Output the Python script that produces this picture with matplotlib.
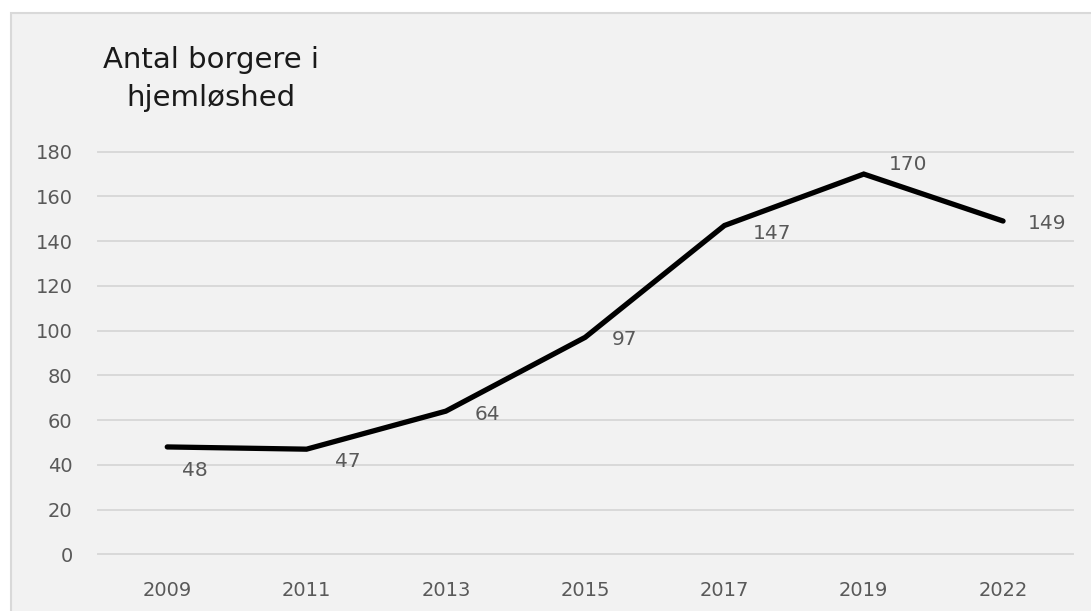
import matplotlib
matplotlib.use("Agg")
import matplotlib.pyplot as plt
from matplotlib.patches import Rectangle

years = ["2009", "2011", "2013", "2015", "2017", "2019", "2022"]
values = [48, 47, 64, 97, 147, 170, 149]
y_ticks = [0, 20, 40, 60, 80, 100, 120, 140, 160, 180]
title_text = "Antal borgere i\nhjemløshed"

# label offsets in pixels (dx right, dy up)
label_offsets = [(15, -24), (28, -12), (29, -3), (27, -2), (28, -8), (25, 10), (25, -2)]

W, H = 1091, 611
fig = plt.figure(figsize=(W / 100, H / 100), dpi=100, facecolor="white")
font = "DejaVu Sans"

# chart frame
frame = Rectangle((11 / W, 1 - 1.2), 1.2, 1.2 - 13 / H, transform=fig.transFigure,
                  facecolor="#f2f2f2", edgecolor="#d9d9d9", linewidth=1.5, zorder=-10)
fig.patches.append(frame)

ax_l, ax_r = 97.6, 1072.7
ax_b, ax_t = 554.3, 151.7
ax = fig.add_axes([ax_l / W, 1 - ax_b / H, (ax_r - ax_l) / W, (ax_b - ax_t) / H])
ax.set_facecolor("none")
ax.set_zorder(1)

x = list(range(len(years)))
ax.plot(x, values, color="black", linewidth=3.8, solid_capstyle="round",
        solid_joinstyle="miter", zorder=3, clip_on=False)

ax.set_xlim(-0.5, len(years) - 0.5)
ax.set_ylim(0, 180)
ax.set_yticks(y_ticks)
ax.set_xticks(x)
ax.set_xticklabels(years)
ax.yaxis.grid(True, color="#d9d9d9", linewidth=1.4)
for gl in ax.get_ygridlines():
    gl.set_clip_on(False)
ax.set_axisbelow(True)
for s in ax.spines.values():
    s.set_visible(False)
ax.tick_params(axis="both", length=0, labelsize=14, labelcolor="#595959")
ax.tick_params(axis="y", pad=18)
ax.tick_params(axis="x", pad=19)
for lbl in ax.get_xticklabels() + ax.get_yticklabels():
    lbl.set_fontfamily(font)

for xi, v, (dx, dy) in zip(x, values, label_offsets):
    ax.annotate(str(v), (xi, v), xytext=(dx, dy), textcoords="offset pixels",
                ha="left", va="center", fontsize=14.5, color="#595959",
                fontfamily=font, zorder=4)

fig.text(211 / W, 1 - 46 / H, title_text, ha="center", va="top",
         multialignment="center", fontsize=21, color="#1a1a1a",
         fontfamily=font, linespacing=1.45)

fig.savefig("out.png", dpi=100, facecolor="white")
